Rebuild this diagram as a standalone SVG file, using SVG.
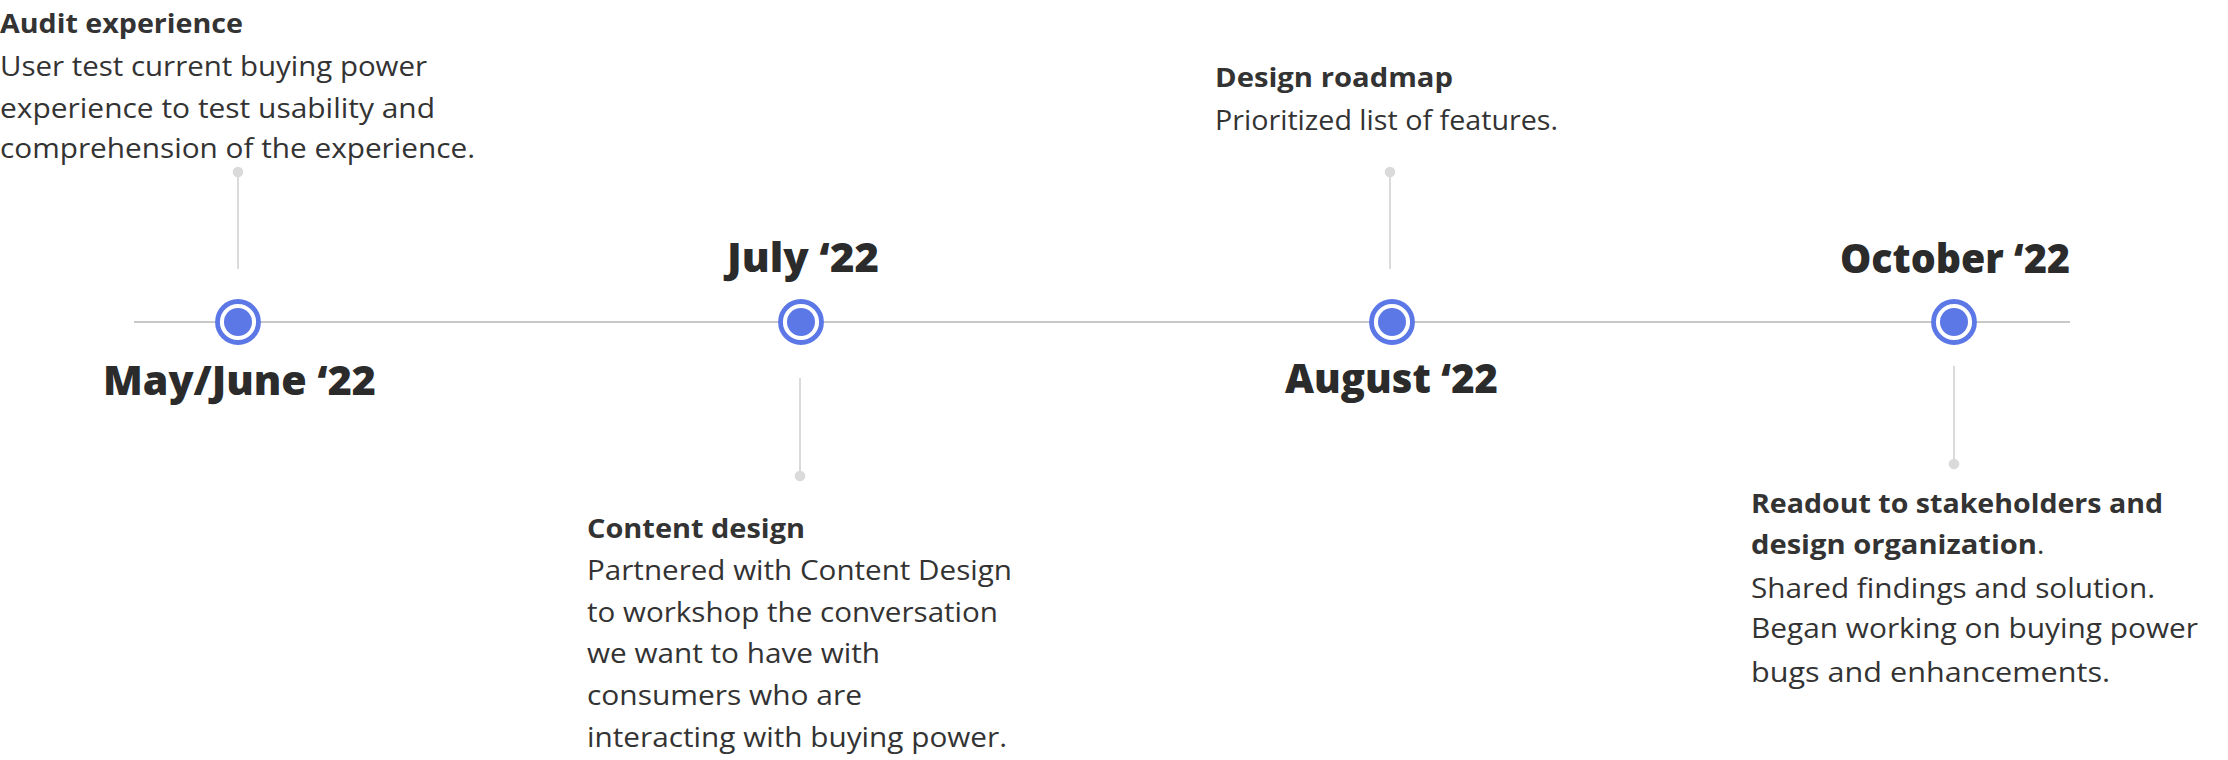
<svg xmlns="http://www.w3.org/2000/svg" width="2228" height="760" viewBox="0 0 2228 760">
  <style>
    .ring { fill: #ffffff; stroke: #5C78E6; stroke-width: 4.8; }
    .core { fill: #5C78E6; }
    .date { font-family: "Open Sans", "Liberation Sans", sans-serif; font-weight: 800; font-size: 40px; fill: #2B2B2B; }
    .title { font-family: "Open Sans", "Liberation Sans", sans-serif; font-weight: 700; font-size: 27px; fill: #333333; }
    .body { font-family: "Open Sans", "Liberation Sans", sans-serif; font-weight: 400; font-size: 28px; fill: #333333; }
    .axis { stroke: #C8C8C8; stroke-width: 2; fill: none; }
    .stem { stroke: #DADADA; stroke-width: 2; fill: none; }
    .tip { fill: #DADADA; }
  </style>
  <rect width="2228" height="760" fill="#ffffff"/>

  <g id="connectors">
    <line class="axis" x1="134" y1="322" x2="2070" y2="322"/>
    <line class="stem" x1="238" y1="172" x2="238" y2="269"/>
    <circle class="tip" cx="238" cy="172" r="5.3"/>
    <line class="stem" x1="800" y1="378" x2="800" y2="476"/>
    <circle class="tip" cx="800" cy="476" r="5.3"/>
    <line class="stem" x1="1390" y1="172" x2="1390" y2="269"/>
    <circle class="tip" cx="1390" cy="172" r="5.3"/>
    <line class="stem" x1="1954" y1="366" x2="1954" y2="464"/>
    <circle class="tip" cx="1954" cy="464" r="5.3"/>
  </g>

  <g id="node-mayjune">
    <circle class="ring" cx="238" cy="322" r="20.5"/>
    <circle class="core" cx="238" cy="322" r="14"/>
    <text class="date" x="103" y="395" textLength="273" lengthAdjust="spacingAndGlyphs">May/June ‘22</text>
    <text class="title" x="0" y="33" textLength="243" lengthAdjust="spacingAndGlyphs">Audit experience</text>
    <text class="body" x="0" y="76" textLength="427" lengthAdjust="spacingAndGlyphs">User test current buying power</text>
    <text class="body" x="0" y="118" textLength="435" lengthAdjust="spacingAndGlyphs">experience to test usability and</text>
    <text class="body" x="0" y="158" textLength="475" lengthAdjust="spacingAndGlyphs">comprehension of the experience.</text>
  </g>

  <g id="node-july">
    <circle class="ring" cx="801" cy="322" r="20.5"/>
    <circle class="core" cx="801" cy="322" r="14"/>
    <text class="date" x="727" y="272" textLength="152" lengthAdjust="spacingAndGlyphs">July ‘22</text>
    <text class="title" x="587" y="538" textLength="218" lengthAdjust="spacingAndGlyphs">Content design</text>
    <text class="body" x="587" y="580" textLength="425" lengthAdjust="spacingAndGlyphs">Partnered with Content Design</text>
    <text class="body" x="587" y="622" textLength="411" lengthAdjust="spacingAndGlyphs">to workshop the conversation</text>
    <text class="body" x="587" y="663" textLength="293" lengthAdjust="spacingAndGlyphs">we want to have with</text>
    <text class="body" x="587" y="705" textLength="275" lengthAdjust="spacingAndGlyphs">consumers who are</text>
    <text class="body" x="587" y="747" textLength="420" lengthAdjust="spacingAndGlyphs">interacting with buying power.</text>
  </g>

  <g id="node-august">
    <circle class="ring" cx="1392" cy="322" r="20.5"/>
    <circle class="core" cx="1392" cy="322" r="14"/>
    <text class="date" x="1285" y="393" textLength="213" lengthAdjust="spacingAndGlyphs">August ‘22</text>
    <text class="title" x="1215" y="87" textLength="238" lengthAdjust="spacingAndGlyphs">Design roadmap</text>
    <text class="body" x="1215" y="130" textLength="343" lengthAdjust="spacingAndGlyphs">Prioritized list of features.</text>
  </g>

  <g id="node-october">
    <circle class="ring" cx="1954" cy="322" r="20.5"/>
    <circle class="core" cx="1954" cy="322" r="14"/>
    <text class="date" x="1840" y="273" textLength="230" lengthAdjust="spacingAndGlyphs">October ‘22</text>
    <text class="title" x="1751" y="513" textLength="412" lengthAdjust="spacingAndGlyphs">Readout to stakeholders and</text>
    <text x="1751" y="554"><tspan class="title" textLength="286" lengthAdjust="spacingAndGlyphs">design organization</tspan><tspan class="body">.</tspan></text>
    <text class="body" x="1751" y="598" textLength="404" lengthAdjust="spacingAndGlyphs">Shared findings and solution.</text>
    <text class="body" x="1751" y="638" textLength="447" lengthAdjust="spacingAndGlyphs">Began working on buying power</text>
    <text class="body" x="1751" y="682" textLength="359" lengthAdjust="spacingAndGlyphs">bugs and enhancements.</text>
  </g>
</svg>
